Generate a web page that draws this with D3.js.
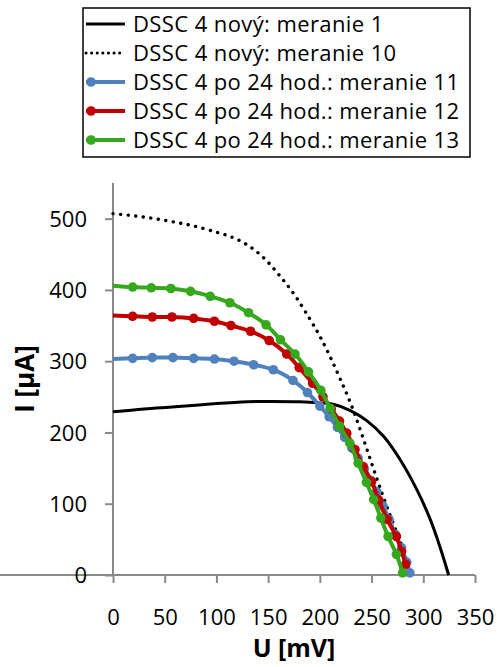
<!DOCTYPE html>
<html>
<head>
<meta charset="utf-8">
<script src="https://cdn.jsdelivr.net/npm/d3@7"></script>
<style>
  html, body { margin: 0; padding: 0; background: #fff; }
  svg { display: block; }
  text { font-family: "Open Sans", Lato, sans-serif; fill: #000; }
</style>
</head>
<body>
<svg id="chart" width="497" height="667"></svg>
<script>
// I–V curves of cell DSSC 4: voltage U [mV], current I [µA]
const seriesNames = [
  "DSSC 4 nový: meranie 1",
  "DSSC 4 nový: meranie 10",
  "DSSC 4 po 24 hod.: meranie 11",
  "DSSC 4 po 24 hod.: meranie 12",
  "DSSC 4 po 24 hod.: meranie 13"
];

const meranie1 = [
  [0, 229], [30, 233], [60, 236], [100, 240.5], [130, 243], [150, 243.5],
  [180, 243], [200, 241.5], [213, 239.5], [229, 231], [245, 217], [262, 194],
  [278, 161], [294, 119], [307, 77], [316, 40], [324.5, 0]
];

const meranie10 = [
  [0, 507], [20, 504], [40, 500], [60, 495], [80, 489], [100, 481],
  [115, 474], [130, 463], [145, 446], [160, 422], [175, 394], [190, 360],
  [200, 335], [210, 306], [220, 274], [230, 240], [240, 200], [250, 157],
  [260, 115], [270, 76], [280, 38], [288, 0]
];

const meranie11 = [
  [0, 303], [19, 304], [38, 305], [58, 305], [78, 304], [98, 303],
  [117, 300], [136, 295], [155, 288], [174, 273], [188, 256], [200, 237],
  [209, 222], [217, 207], [224, 193], [231, 178], [237, 164], [243, 149],
  [249, 133], [255, 117], [261, 97], [267, 78], [273, 57], [279, 38],
  [284, 18], [287, 3]
];

const meranie12 = [
  [0, 364], [19, 363], [38, 362], [57, 362], [78, 360], [98, 356],
  [114, 350], [133, 342], [151, 329], [168, 310], [180, 291], [193, 269],
  [203, 250], [211, 233], [219, 216], [226, 199], [234, 176], [242, 152],
  [250, 131], [257, 105], [265, 78], [274, 54], [279, 33], [283, 15]
];

const meranie13 = [
  [0, 406], [19, 404], [37, 403], [56, 402], [75, 398], [94, 391],
  [113, 382], [131, 368], [148, 351], [162, 330], [176, 310], [189, 285],
  [201, 259], [210, 234], [219, 209], [229, 185], [237, 157], [245, 130],
  [252, 106], [259, 80], [266, 54], [274, 29], [280, 3]
];

const xTicks = [0, 50, 100, 150, 200, 250, 300, 350];
const yTicks = [0, 100, 200, 300, 400, 500];

const colors = ["#000000", "#000000", "#4f81bd", "#c00000", "#35a81e"];

const svg = d3.select("#chart");

const x = d3.scaleLinear().domain([0, 350]).range([113, 475]);
const y = d3.scaleLinear().domain([0, 550]).range([575, 183]);

// axes
const axisColor = "#898989";
const xAxis = svg.append("g")
  .attr("transform", `translate(0,${y(0)})`)
  .call(d3.axisBottom(x).tickValues(xTicks).tickSize(8).tickPadding(26).tickSizeOuter(0));
const yAxis = svg.append("g")
  .attr("transform", `translate(${x(0)},0)`)
  .call(d3.axisLeft(y).tickValues(yTicks).tickSize(8).tickPadding(18).tickSizeOuter(0));

[xAxis, yAxis].forEach(g => {
  g.select(".domain").attr("stroke", axisColor).attr("stroke-width", 2);
  g.selectAll(".tick line").attr("stroke", axisColor).attr("stroke-width", 2);
  g.selectAll(".tick text")
    .attr("font-family", "'Open Sans', sans-serif")
    .attr("font-size", 22)
    .attr("fill", "#000");
});
// y axis line reaches the top of the plot area
yAxis.select(".domain").attr("d", `M0,${y(550)}V${y(0)}`);
xAxis.select(".domain").attr("d", `M0,0H${x(350)}`);
xAxis.selectAll(".tick text").attr("dy", "0.71em");
yAxis.selectAll(".tick text").attr("dy", "0.35em");

// axis titles
svg.append("text")
  .attr("x", 294).attr("y", 657)
  .attr("text-anchor", "middle")
  .attr("font-weight", "bold").attr("font-size", 25)
  .text("U [mV]");
svg.append("text")
  .attr("transform", `translate(34,379) rotate(-90)`)
  .attr("text-anchor", "middle")
  .attr("font-weight", "bold").attr("font-size", 26)
  .text("I [µA]");

const line = d3.line()
  .x(d => x(d[0])).y(d => y(d[1]))
  .curve(d3.curveCatmullRom.alpha(0.5));

const plot = svg.append("g");

// measurement 1: solid black
plot.append("path")
  .attr("d", line(meranie1))
  .attr("fill", "none").attr("stroke", colors[0]).attr("stroke-width", 3);

// measurement 10: dotted black
plot.append("path")
  .attr("d", line(meranie10))
  .attr("fill", "none").attr("stroke", colors[1]).attr("stroke-width", 3.4)
  .attr("stroke-linecap", "round").attr("stroke-dasharray", "0.1 7.5");

// measurements 11-13: coloured lines with round markers
[meranie11, meranie12, meranie13].forEach((data, i) => {
  const c = colors[i + 2];
  plot.append("path")
    .attr("d", line(data))
    .attr("fill", "none").attr("stroke", c).attr("stroke-width", 4);
  plot.selectAll(null)
    .data(data.filter(d => d[0] > 0))
    .enter().append("circle")
    .attr("cx", d => x(d[0])).attr("cy", d => y(d[1]))
    .attr("r", 4.8).attr("fill", c);
});

// legend
const legend = svg.append("g");
legend.append("rect")
  .attr("x", 83).attr("y", 8).attr("width", 387).attr("height", 149)
  .attr("fill", "#fff").attr("stroke", "#000").attr("stroke-width", 1.5);

seriesNames.forEach((name, i) => {
  const cy = 24 + i * 29;
  const g = legend.append("g");
  const ln = g.append("line")
    .attr("x1", 86).attr("x2", 125).attr("y1", cy).attr("y2", cy)
    .attr("stroke", colors[i]).attr("stroke-width", i < 2 ? 3 : 4);
  if (i === 1) ln.attr("stroke-linecap", "round").attr("stroke-dasharray", "0.1 5.5");
  if (i >= 2) {
    g.append("circle").attr("cx", 91).attr("cy", cy).attr("r", 4.8).attr("fill", colors[i]);
  }
  g.append("text")
    .attr("x", 133).attr("y", cy).attr("dy", "0.36em")
    .attr("font-size", 22).attr("letter-spacing", 0.4)
    .text(name);
});
</script>
</body>
</html>
